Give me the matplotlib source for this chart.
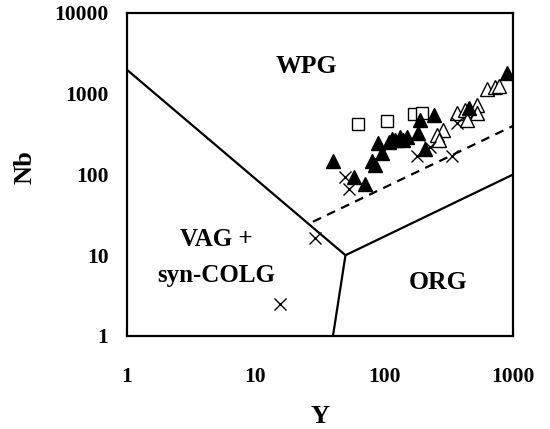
import numpy as np
import matplotlib
matplotlib.use("Agg")
import matplotlib.pyplot as plt

plt.rcParams['font.family'] = ['Liberation Serif', 'DejaVu Serif']
plt.rcParams['font.weight'] = 'bold'

# field boundaries (Y, Nb)
wpg_vag_y = [1, 50]
wpg_vag_nb = [2000, 10]
vag_org_y = [50, 40]
vag_org_nb = [10, 1]
wpg_org_y = [50, 1000]
wpg_org_nb = [10, 100]
dash_y = [28, 1000]
dash_nb = [26, 400]

# samples
sq_y = [63, 105, 169, 196]
sq_nb = [423, 465, 563, 574]

tri_y = [40, 58, 71, 89, 80, 85, 96, 115, 133, 150, 122, 109, 140,
         241, 190, 184, 208, 895, 451]
tri_nb = [145, 93, 77, 244, 145, 132, 184, 274, 295, 295, 269, 253, 269,
          547, 474, 330, 206, 1792, 662]

otri_y = [366, 425, 523, 523, 438, 288, 256, 264, 626, 727, 771]
otri_nb = [574, 631, 727, 574, 474, 357, 310, 269, 1132, 1203, 1250]

x_y = [50, 53, 179, 366, 227, 335, 29, 15.5]
x_nb = [94, 66, 170, 432, 222, 167, 16.4, 2.5]

fig = plt.figure(figsize=(5.5, 4.29), dpi=100)
ax = fig.add_axes([0.23, 0.2168, 0.703, 0.753])
ax.set_xscale('log')
ax.set_yscale('log')
ax.set_xlim(1, 1000)
ax.set_ylim(1, 10000)

for xs, ys in [(wpg_vag_y, wpg_vag_nb), (vag_org_y, vag_org_nb), (wpg_org_y, wpg_org_nb)]:
    ax.plot(xs, ys, color='black', lw=1.6, solid_capstyle='butt')
ax.plot(dash_y, dash_nb, color='black', lw=1.6, ls=(0, (4, 3)))

ax.plot(sq_y, sq_nb, ls='none', marker='s', ms=8.5, mfc='white', mec='black', mew=1.0)
ax.plot(otri_y, otri_nb, ls='none', marker='^', ms=10, mfc='white', mec='black', mew=1.0)
ax.plot(tri_y, tri_nb, ls='none', marker='^', ms=10, mfc='black', mec='black')
ax.plot(x_y, x_nb, ls='none', marker='x', ms=9, mec='black', mew=1.0)

ax.text(25, 2160, 'WPG', fontsize=18.5, fontweight='bold', ha='center', va='center')
ax.text(5.0, 15.6, 'VAG +', fontsize=18, fontweight='bold', ha='center', va='center')
ax.text(5.0, 5.6, 'syn-COLG', fontsize=18, fontweight='bold', ha='center', va='center')
ax.text(261, 4.6, 'ORG', fontsize=18.5, fontweight='bold', ha='center', va='center')

ax.set_xticks([1, 10, 100, 1000])
ax.set_xticklabels(['1', '10', '100', '1000'])
ax.set_yticks([1, 10, 100, 1000, 10000])
ax.set_yticklabels(['1', '10', '100', '1000', '10000'])
ax.minorticks_off()
ax.tick_params(length=0, labelsize=15.5)
ax.tick_params(axis='x', pad=22)
ax.tick_params(axis='y', pad=13)
for lab in ax.get_xticklabels() + ax.get_yticklabels():
    lab.set_fontweight('bold')
for sp in ax.spines.values():
    sp.set_linewidth(1.6)

ax.set_xlabel('Y', fontsize=19, fontweight='bold')
ax.set_ylabel('Nb', fontsize=19, fontweight='bold')
ax.xaxis.set_label_coords(0.5, -0.25)
ax.yaxis.set_label_coords(-0.263, 0.523)
ax.xaxis.label.set_va('center')
ax.yaxis.label.set_va('center')

fig.savefig('out.png', dpi=100)
